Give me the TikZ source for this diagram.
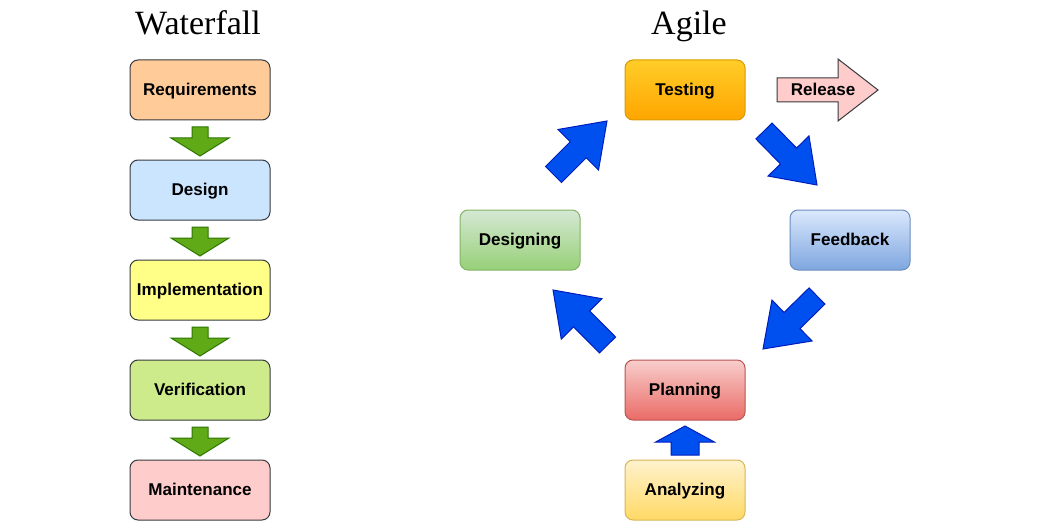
\documentclass[tikz,border=0pt]{standalone}
\usepackage{fontspec}
\setmainfont{Liberation Serif}
\setsansfont{Liberation Sans}
\usetikzlibrary{positioning,calc}

\definecolor{cReq}{HTML}{FFCC99}
\definecolor{cDes}{HTML}{CCE5FF}
\definecolor{cImp}{HTML}{FFFF88}
\definecolor{cVer}{HTML}{CDEB8B}
\definecolor{cMai}{HTML}{FFCCCC}
\definecolor{cLine}{HTML}{36393D}
\definecolor{cGreen}{HTML}{60A917}
\definecolor{cGreenLine}{HTML}{2D7600}
\definecolor{cBlue}{HTML}{0050EF}
\definecolor{cBlueLine}{HTML}{001DBC}
\definecolor{tesTop}{HTML}{FFCD28}
\definecolor{tesBot}{HTML}{FFA500}
\definecolor{tesLine}{HTML}{D79B00}
\definecolor{feeTop}{HTML}{DAE8FC}
\definecolor{feeBot}{HTML}{7EA6E0}
\definecolor{feeLine}{HTML}{6C8EBF}
\definecolor{dsgTop}{HTML}{D5E8D4}
\definecolor{dsgBot}{HTML}{97D077}
\definecolor{dsgLine}{HTML}{82B366}
\definecolor{plaTop}{HTML}{F8CECC}
\definecolor{plaBot}{HTML}{EA6B66}
\definecolor{plaLine}{HTML}{B85450}
\definecolor{anaTop}{HTML}{FFF2CC}
\definecolor{anaBot}{HTML}{FFD966}
\definecolor{anaLine}{HTML}{D6B656}

% block arrow: style, tail, tip, half shaft, half head, head length
\newcommand{\fatarrow}[6]{%
    \coordinate (fa-h) at ($(#3)!#6!(#2)$);
    \draw[#1] ($(#2)!#4!90:(#3)$) -- ($(fa-h)!#4!90:(#3)$) -- ($(fa-h)!#5!90:(#3)$)
        -- (#3) -- ($(fa-h)!#5!-90:(#3)$) -- ($(fa-h)!#4!-90:(#3)$)
        -- ($(#2)!#4!-90:(#3)$) -- cycle;
}

\begin{document}
\begin{tikzpicture}[x=0.75pt, y=-0.75pt,
    label font/.style={font=\sffamily\bfseries\fontsize{12.8}{14}\selectfont},
    box/.style={draw, rounded corners=6pt, line width=0.75pt, outer sep=0pt,
        minimum height=45pt, text height=10.6pt, text depth=2pt, label font},
    wfbox/.style={box, draw=cLine, minimum width=105pt},
    agbox/.style={box, minimum width=90pt, draw=#1Line, top color=#1Top, bottom color=#1Bot},
    greenarr/.style={fill=cGreen, draw=cGreenLine, line width=0.75pt, line join=miter},
    bluearr/.style={fill=cBlue, draw=cBlueLine, line width=0.75pt, line join=miter},
    title/.style={anchor=base, font=\fontsize{25.5}{30}\selectfont}]

    \useasboundingbox (0,0) rectangle (1041,531);

% Waterfall

    \node[title] (wf) at (198,35) {Waterfall};

    \node[wfbox, fill=cReq] (req) at (200,90) {Requirements};
    \node[wfbox, fill=cDes, below=30pt of req] (des) {Design};
    \node[wfbox, fill=cImp, below=30pt of des] (imp) {Implementation};
    \node[wfbox, fill=cVer, below=30pt of imp] (ver) {Verification};
    \node[wfbox, fill=cMai, below=30pt of ver] (mai) {Maintenance};

    \foreach \a/\b in {req/des, des/imp, imp/ver, ver/mai} {
        \coordinate (\a-t) at ($(\a.south)+(0,7)$);
        \coordinate (\b-p) at ($(\b.north)+(0,-4)$);
        \fatarrow{greenarr}{\a-t}{\b-p}{6pt}{21.75pt}{13.5pt}
    }

% Agile

    \node[title] (ag) at (689,35) {Agile};

    \node[agbox=tes] (tes) at (685,90) {Testing};
    \node[agbox=fee] (fee) at (850,240) {Feedback};
    \node[agbox=dsg] (dsg) at (520,240) {Designing};
    \node[agbox=pla] (pla) at (685,390) {Planning};
    \node[agbox=ana, below=30pt of pla] (ana) {Analyzing};

    % arrows round the cycle
    \coordinate (d2t-a) at (553.5,174.5);  \coordinate (d2t-b) at (607,121);
    \coordinate (t2f-a) at (764,131);      \coordinate (t2f-b) at (817,185);
    \coordinate (f2p-a) at (817,296);      \coordinate (f2p-b) at (763,349);
    \coordinate (p2d-a) at (607.5,345);    \coordinate (p2d-b) at (553,290);

    \foreach \c in {d2t, t2f, f2p, p2d} {
        \fatarrow{bluearr}{\c-a}{\c-b}{8.5pt}{21.5pt}{30.5pt}
    }

    \coordinate (ana-t) at ($(ana.north)+(0,-5)$);
    \coordinate (pla-p) at ($(pla.south)+(0,6)$);
    \fatarrow{bluearr}{ana-t}{pla-p}{10.5pt}{22pt}{12pt}

    % release
    \coordinate (rel-a) at (777,90);
    \coordinate (rel-b) at (878,90);
    \fatarrow{fill=cMai, draw=cLine, line width=0.75pt}{rel-a}{rel-b}{9pt}{23.25pt}{30pt}
    \node[label font, text height=10.6pt, text depth=2pt] (rel) at (823,90) {Release};

\end{tikzpicture}
\end{document}
